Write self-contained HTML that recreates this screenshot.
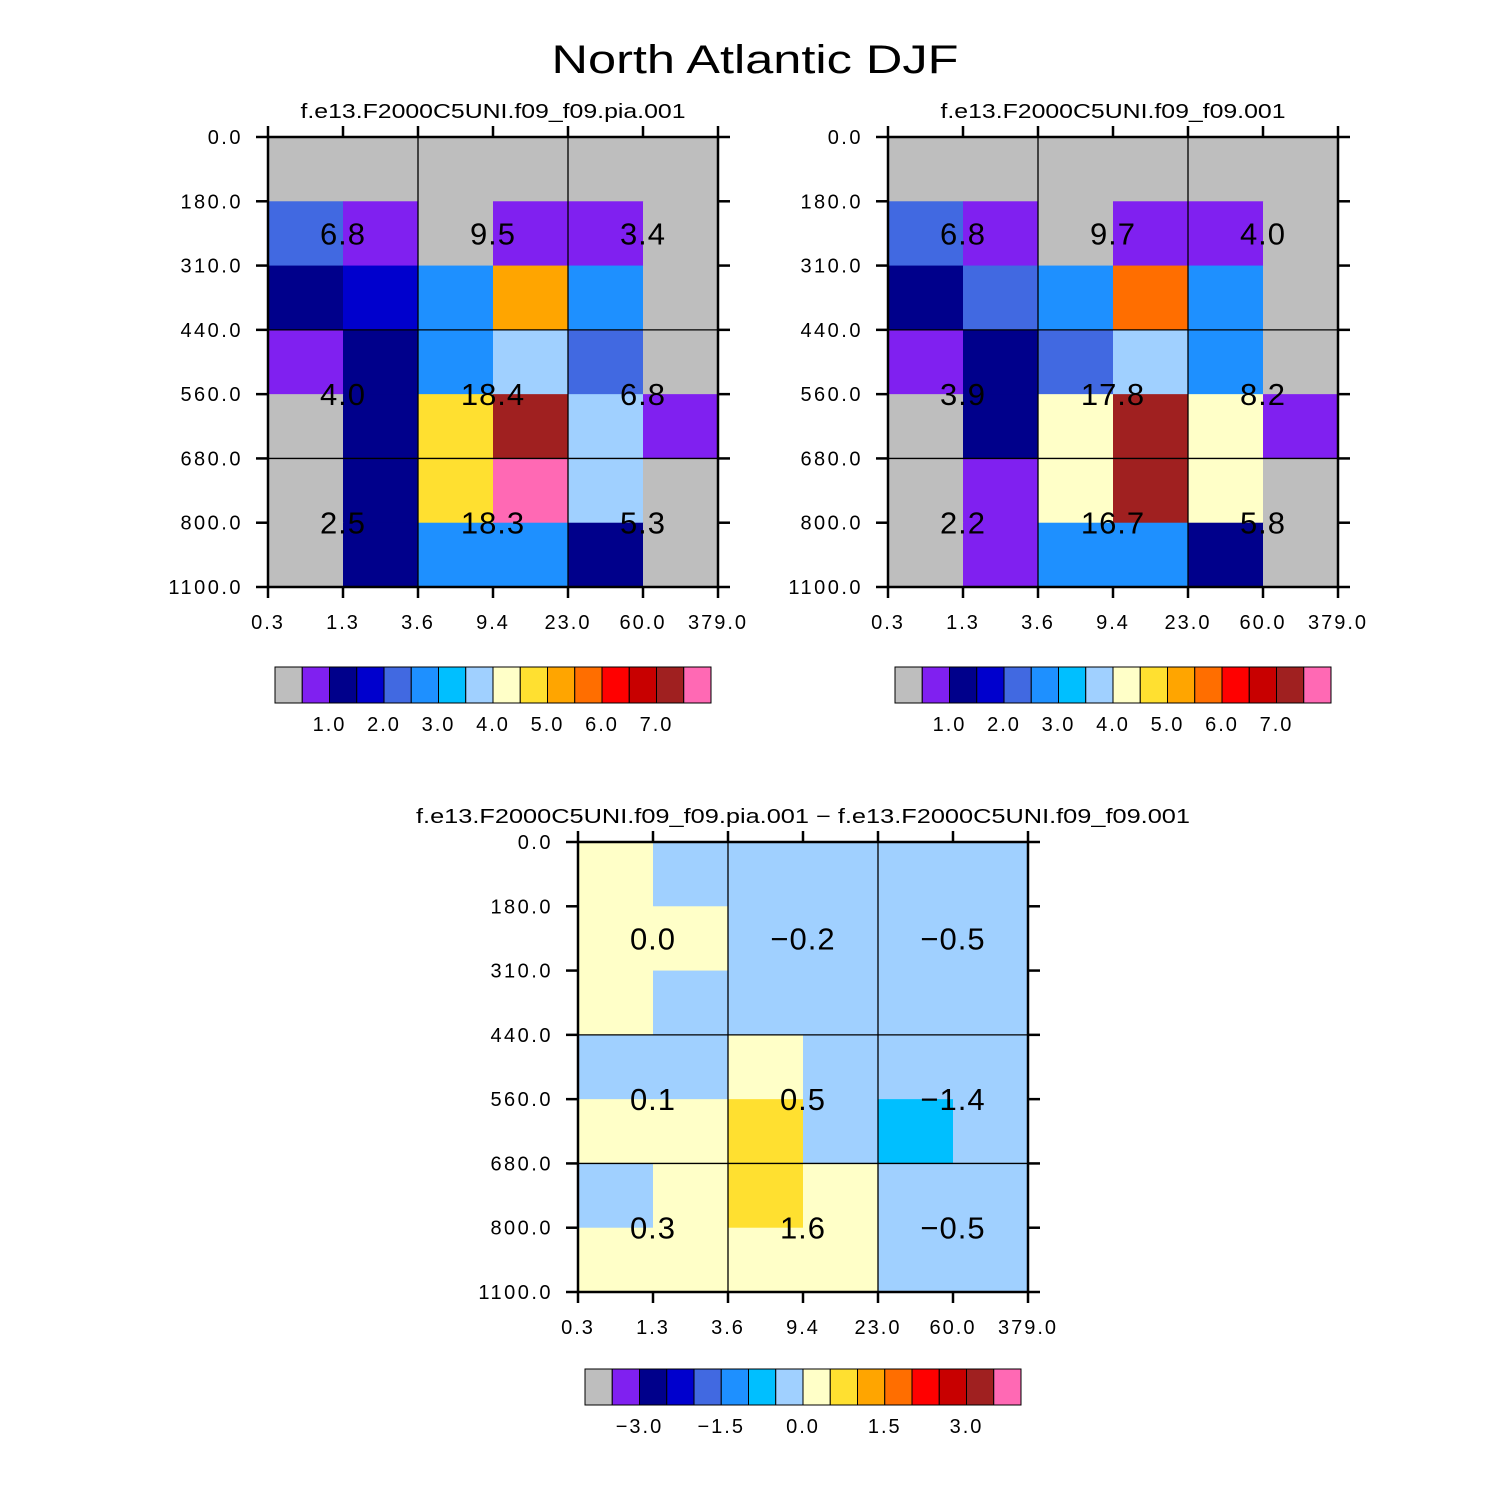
<!DOCTYPE html>
<html><head><meta charset="utf-8"><style>
html,body{margin:0;padding:0;background:#fff;}
svg{display:block;font-family:"Liberation Sans","DejaVu Sans",sans-serif;}
</style></head><body>
<svg id="fig" width="1510" height="1510" viewBox="0 0 1510 1510">
<text x="755" y="73" text-anchor="middle" font-size="40" font-weight="300" fill="#000" textLength="407" lengthAdjust="spacingAndGlyphs">North Atlantic DJF</text>
</svg>
<script>
const palette=["#BEBEBE","#8020F0","#00008B","#0000CD","#4169E1","#1E90FF","#00BFFF","#A0D0FF","#FFFFC8","#FFE030","#FFA500","#FF6E00","#FF0000","#C80000","#A02020","#FF69B4"];
const xTicks=["0.3","1.3","3.6","9.4","23.0","60.0","379.0"];
const yTicks=["0.0","180.0","310.0","440.0","560.0","680.0","800.0","1100.0"];
const grid1=[[0,0,0,0,0,0],[4,1,0,1,1,0],[2,3,5,10,5,0],[1,2,5,7,4,0],[0,2,9,14,7,1],[0,2,9,15,7,0],[0,2,5,5,2,0]];
const grid2=[[0,0,0,0,0,0],[4,1,0,1,1,0],[2,4,5,11,5,0],[1,2,4,7,5,0],[0,2,8,14,8,1],[0,1,8,14,8,0],[0,1,5,5,2,0]];
const grid3=[[8,7,7,7,7,7],[8,8,7,7,7,7],[8,7,7,7,7,7],[7,7,8,7,7,7],[8,8,9,7,6,7],[7,8,9,8,7,7],[8,8,8,8,7,7]];
const vals1=[["6.8","9.5","3.4"],["4.0","18.4","6.8"],["2.5","18.3","5.3"]];
const vals2=[["6.8","9.7","4.0"],["3.9","17.8","8.2"],["2.2","16.7","5.8"]];
const vals3=[["0.0","\u22120.2","\u22120.5"],["0.1","0.5","\u22121.4"],["0.3","1.6","\u22120.5"]];
const cb1Labels=[[2,"1.0"],[4,"2.0"],[6,"3.0"],[8,"4.0"],[10,"5.0"],[12,"6.0"],[14,"7.0"]];
const cb3Labels=[[2,"\u22123.0"],[5,"\u22121.5"],[8,"0.0"],[11,"1.5"],[14,"3.0"]];

const NS="http://www.w3.org/2000/svg";
const svg=document.getElementById('fig');
function mk(tag,attrs,parent){const e=document.createElementNS(NS,tag);for(const k in attrs)e.setAttribute(k,attrs[k]);(parent||svg).appendChild(e);return e;}

function panel(id,x0,y0,title,titleLen,grid,vals,cbLabels,cbY){
  const g=mk('g',{});
  
  
  const W=450,H=450,nc=6,nr=7;
  const xs=c=>x0+c*W/nc, ys=r=>y0+r*H/nr;
  const t=mk('text',{x:x0+W/2,y:y0-19,'text-anchor':'middle','font-size':20,textLength:titleLen,lengthAdjust:'spacingAndGlyphs'},g);t.textContent=title;
  
  
  grid.forEach((row,r)=>row.forEach((ci,c)=>{
    const rc=mk('rect',{x:xs(c),y:ys(r),width:W/nc+0.5,height:H/nr+0.5,fill:palette[ci]},g);
    
    
  }));
  [2,4].forEach(c=>mk('line',{x1:xs(c),x2:xs(c),y1:y0,y2:y0+H,stroke:'#000','stroke-width':1.3},g));
  [3,5].forEach(r=>mk('line',{x1:x0,x2:x0+W,y1:ys(r),y2:ys(r),stroke:'#000','stroke-width':1.3},g));
  const vy=[ys(1.5),ys(4),ys(6)];
  vals.forEach((row,r)=>row.forEach((v,c)=>{
    const tx=mk('text',{x:xs(1+2*c),y:vy[r]+11,'text-anchor':'middle','font-size':31,'font-weight':300,'letter-spacing':1},g);tx.textContent=v;
    
    
  }));
  mk('rect',{x:x0,y:y0,width:W,height:H,fill:'none',stroke:'#000','stroke-width':2.5},g);
  xTicks.forEach((l,i)=>{
    const x=xs(i);
    mk('line',{x1:x,x2:x,y1:y0+H,y2:y0+H+11,stroke:'#000','stroke-width':2.5},g);
    mk('line',{x1:x,x2:x,y1:y0,y2:y0-11,stroke:'#000','stroke-width':2.5},g);
    const tx=mk('text',{x:x,y:y0+H+42,'text-anchor':'middle','font-size':20,'letter-spacing':2},g);tx.textContent=l;
    
    
  });
  yTicks.forEach((l,i)=>{
    const y=ys(i);
    mk('line',{x1:x0,x2:x0-12,y1:y,y2:y,stroke:'#000','stroke-width':2.5},g);
    mk('line',{x1:x0+W,x2:x0+W+12,y1:y,y2:y,stroke:'#000','stroke-width':2.5},g);
    const tx=mk('text',{x:x0-25,y:y+7,'text-anchor':'end','font-size':20,'letter-spacing':2.5},g);tx.textContent=l;
    
    
  });
  const cb=mk('g',{},g);
  
  
  const cx0=x0+7,bw=436/16;
  palette.forEach((col,i)=>{
    const b=mk('rect',{x:cx0+i*bw,y:cbY,width:bw,height:36,fill:col,stroke:'#000','stroke-width':1},cb);
    
    
  });
  cbLabels.forEach(([k,l])=>{
    const tx=mk('text',{x:cx0+k*bw,y:cbY+64,'text-anchor':'middle','font-size':20,'letter-spacing':2},cb);tx.textContent=l;
    
    
  });
}
panel('panel-pia',268,137,'f.e13.F2000C5UNI.f09_f09.pia.001',385,grid1,vals1,cb1Labels,667);
panel('panel-control',888,137,'f.e13.F2000C5UNI.f09_f09.001',345,grid2,vals2,cb1Labels,667);
panel('panel-difference',578,842,'f.e13.F2000C5UNI.f09_f09.pia.001 \u2212 f.e13.F2000C5UNI.f09_f09.001',774,grid3,vals3,cb3Labels,1369);
</script>
</body></html>
